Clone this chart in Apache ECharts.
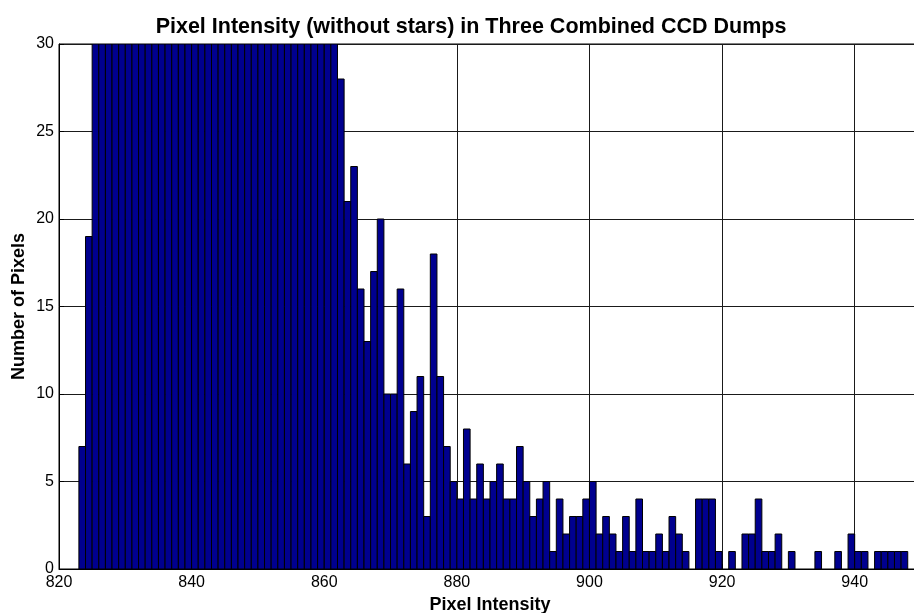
<!DOCTYPE html>
<html>
<head>
<meta charset="utf-8">
<script src="https://cdn.jsdelivr.net/npm/echarts@6/dist/echarts.min.js"></script>
<style>
html,body{margin:0;padding:0;background:#fff;overflow:hidden;}
#chart{width:914px;height:613px;}
</style>
</head>
<body>
<div id="chart"></div>
<script>
// Left edge of each histogram bin (bins are 1 unit wide)
const binLeft = [
  823, 824, 825, 826, 827, 828, 829, 830, 831, 832, 833, 834, 835, 836, 837, 838, 839, 840,
  841, 842, 843, 844, 845, 846, 847, 848, 849, 850, 851, 852, 853, 854, 855, 856, 857, 858,
  859, 860, 861, 862, 863, 864, 865, 866, 867, 868, 869, 870, 871, 872, 873, 874, 875, 876,
  877, 878, 879, 880, 881, 882, 883, 884, 885, 886, 887, 888, 889, 890, 891, 892, 893, 894,
  895, 896, 897, 898, 899, 900, 901, 902, 903, 904, 905, 906, 907, 908, 909, 910, 911, 912,
  913, 914, 915, 916, 917, 918, 919, 920, 921, 922, 923, 924, 925, 926, 927, 928, 929, 930,
  931, 932, 933, 934, 935, 936, 937, 938, 939, 940, 941, 942, 943, 944, 945, 946, 947
];
// Pixel counts per bin (bins 825-861 run off the top of the 0-30 axis)
const pixelCounts = [
  7, 19, 30, 30, 30, 30, 30, 30, 30, 30, 30, 30, 30, 30, 30, 30, 30, 30,
  30, 30, 30, 30, 30, 30, 30, 30, 30, 30, 30, 30, 30, 30, 30, 30, 30, 30,
  30, 30, 30, 28, 21, 23, 16, 13, 17, 20, 10, 10, 16, 6, 9, 11, 3, 18,
  11, 7, 5, 4, 8, 4, 6, 4, 5, 6, 4, 4, 7, 5, 3, 4, 5, 1,
  4, 2, 3, 3, 4, 5, 2, 3, 2, 1, 3, 1, 4, 1, 1, 2, 1, 3,
  2, 1, 0, 4, 4, 4, 1, 0, 1, 0, 2, 2, 4, 1, 1, 2, 0, 1,
  0, 0, 0, 1, 0, 0, 1, 0, 2, 1, 1, 0, 1, 1, 1, 1, 1
];
const xTicks = [820, 840, 860, 880, 900, 920, 940];
const yTicks = [0, 5, 10, 15, 20, 25, 30];
const titleText = 'Pixel Intensity (without stars) in Three Combined CCD Dumps';
const xName = 'Pixel Intensity';
const yName = 'Number of Pixels';

const data = binLeft.map((b, i) => [b, pixelCounts[i]]);
const FONT = '"Liberation Sans", Arial, Helvetica, sans-serif';

const chart = echarts.init(document.getElementById('chart'), null, {renderer: 'canvas'});
chart.setOption({
  animation: false,
  backgroundColor: '#ffffff',
  title: {
    text: titleText,
    left: 466,
    top: 11,
    textAlign: 'center',
    textStyle: {fontFamily: FONT, fontWeight: 'bold', fontSize: 21.5, color: '#000'}
  },
  grid: {
    left: 59, top: 44, width: 862, height: 525,
    outerBoundsMode: 'none',
    containLabel: false,
    show: true, borderColor: '#000', borderWidth: 1, backgroundColor: 'transparent'
  },
  xAxis: {
    type: 'value',
    min: xTicks[0], max: 950, interval: 20,
    name: xName, nameLocation: 'middle', nameGap: 25,
    nameTextStyle: {fontFamily: FONT, fontWeight: 'bold', fontSize: 18, color: '#000'},
    axisLine: {show: true, onZero: false, lineStyle: {color: '#000', width: 1}},
    axisTick: {show: true, inside: true, length: 5, lineStyle: {color: '#000'}},
    axisLabel: {
      margin: 6, fontFamily: FONT, fontSize: 16, color: '#000',
      formatter: v => (xTicks.indexOf(v) >= 0 ? String(v) : '')
    },
    splitLine: {show: true, lineStyle: {color: '#1a1a1a', width: 1}}
  },
  yAxis: {
    type: 'value',
    min: yTicks[0], max: yTicks[yTicks.length - 1], interval: 5,
    name: yName, nameLocation: 'middle', nameGap: 31, nameRotate: 90,
    nameMoveOverlap: false,
    nameTextStyle: {fontFamily: FONT, fontWeight: 'bold', fontSize: 18, color: '#000'},
    axisLine: {show: true, lineStyle: {color: '#000', width: 1}},
    axisTick: {show: true, inside: true, length: 5, lineStyle: {color: '#000'}},
    axisLabel: {margin: 5, fontFamily: FONT, fontSize: 16, color: '#000'},
    splitLine: {show: true, lineStyle: {color: '#1a1a1a', width: 1}}
  },
  series: [{
    type: 'custom',
    data: data,
    encode: {x: 0, y: 1},
    clip: true,
    renderItem: function (params, api) {
      const x0 = api.value(0);
      const v = api.value(1);
      if (!v) return null;
      const pTop = api.coord([x0, v]);
      const pBot = api.coord([x0 + 1, 0]);
      return {
        type: 'rect',
        shape: {x: pTop[0], y: pTop[1], width: pBot[0] - pTop[0], height: pBot[1] - pTop[1]},
        style: {fill: '#00008F', stroke: '#000000', lineWidth: 1}
      };
    }
  }]
});
</script>
</body>
</html>
